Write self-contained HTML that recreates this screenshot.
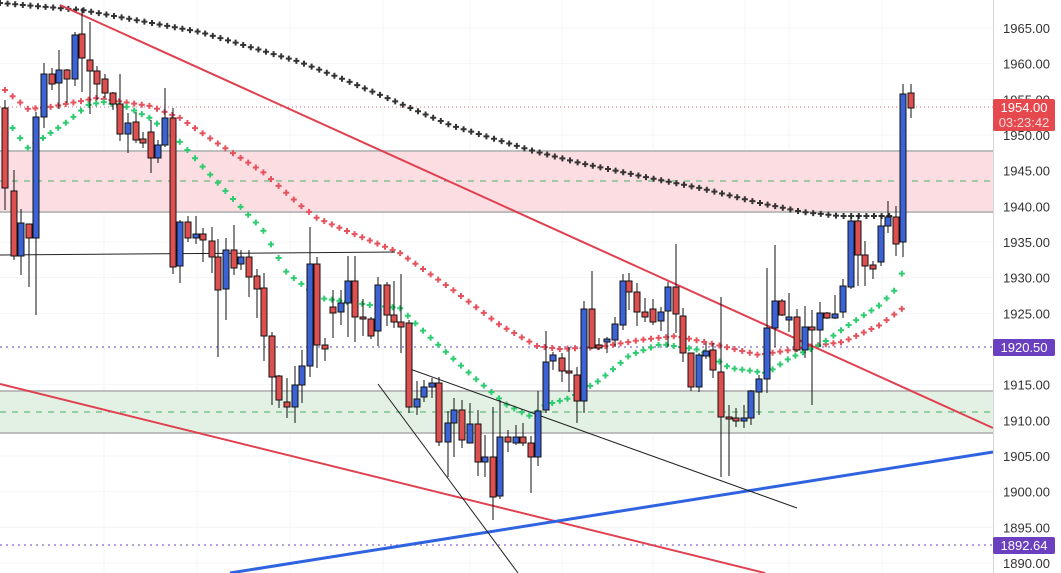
<!DOCTYPE html>
<html><head><meta charset="utf-8"><style>
html,body{margin:0;padding:0;background:#fff;}
svg{display:block;font-family:"Liberation Sans",sans-serif;}
</style></head><body>
<svg id="s" width="1061" height="573" viewBox="0 0 1061 573" xmlns="http://www.w3.org/2000/svg">
<rect width="1061" height="573" fill="#fff"/>
<g id="grid" stroke="#f3f4f6" stroke-width="1"></g>
<rect x="0" y="151" width="993" height="61" fill="#fcdde2"/>
<line x1="0" y1="151" x2="993" y2="151" stroke="#bdbdbd" stroke-width="2"/>
<line x1="0" y1="212" x2="993" y2="212" stroke="#bdbdbd" stroke-width="2"/>
<line x1="0" y1="181" x2="993" y2="181" stroke="#4caf6a" stroke-width="1" stroke-dasharray="6,6"/>
<rect x="0" y="391" width="993" height="42" fill="#e2f1e3"/>
<line x1="0" y1="391" x2="993" y2="391" stroke="#bdbdbd" stroke-width="2"/>
<line x1="0" y1="433" x2="993" y2="433" stroke="#bdbdbd" stroke-width="2"/>
<line x1="0" y1="412" x2="993" y2="412" stroke="#4caf6a" stroke-width="1" stroke-dasharray="6,6"/>
<line x1="0" y1="107" x2="993" y2="107" stroke="#e06070" stroke-width="1" stroke-dasharray="1,3"/>
<line x1="0" y1="347" x2="993" y2="347" stroke="#9a80d0" stroke-width="1.5" stroke-dasharray="2,4"/>
<line x1="0" y1="545" x2="993" y2="545" stroke="#9a80d0" stroke-width="1.5" stroke-dasharray="2,4"/>
<g id="dots"></g>
<line x1="60" y1="5" x2="993" y2="428" stroke="#e0404f" stroke-width="2"/>
<line x1="0" y1="384" x2="765" y2="573" stroke="#e0404f" stroke-width="2"/>
<line x1="230" y1="573" x2="993" y2="452" stroke="#2f63e0" stroke-width="3"/>
<line x1="0" y1="255" x2="395" y2="252" stroke="#222" stroke-width="1"/>
<line x1="378" y1="384" x2="518" y2="573" stroke="#222" stroke-width="1"/>
<line x1="410" y1="369" x2="797" y2="508" stroke="#222" stroke-width="1"/>
<g id="candles"></g>
<rect x="993" y="0" width="68" height="573" fill="#fff"/>
<line x1="993.5" y1="0" x2="993.5" y2="573" stroke="#d6d6d6"/>
<g id="ax" font-size="13" fill="#333"></g>
<rect x="993" y="99" width="62" height="32" rx="2" fill="#e5484d"/>
<text x="1024" y="112" font-size="13" fill="#fff" text-anchor="middle">1954.00</text>
<text x="1024" y="127" font-size="13" fill="#ffd9d9" text-anchor="middle">03:23:42</text>
<rect x="993" y="339" width="62" height="17" rx="2" fill="#6a3fc0"/>
<text x="1024" y="352" font-size="13" fill="#fff" text-anchor="middle">1920.50</text>
<rect x="993" y="537" width="62" height="17" rx="2" fill="#6a3fc0"/>
<text x="1024" y="550" font-size="13" fill="#fff" text-anchor="middle">1892.64</text>
</svg>
<script>
var NS="http://www.w3.org/2000/svg";
function el(t,a,p){var e=document.createElementNS(NS,t);for(var k in a)e.setAttribute(k,a[k]);p.appendChild(e);return e;}
var ax=document.getElementById('ax'),grid=document.getElementById('grid');
for(var p=1965;p>=1890;p-=5){var y=28+(1965-p)*7.133;
 el('line',{x1:0,y1:y,x2:993,y2:y},grid);
 var t=el('text',{x:1003,y:y+5},ax);t.textContent=p.toFixed(2);}
[104,197,290,383,470,562,653,745,789,882].forEach(function(x){el('line',{x1:x,y1:0,x2:x,y2:573},grid);});
function interp(pts,step,color,g){
 for(var x=pts[0][0];x<=pts[pts.length-1][0];x+=step){
  var j=1;while(j<pts.length-1&&pts[j][0]<x)j++;
  var a=pts[j-1],b=pts[j],f=(x-a[0])/(b[0]-a[0]||1);var y=a[1]+(b[1]-a[1])*f;
  el('path',{d:'M'+(x-3)+' '+y+'h6M'+x+' '+(y-3)+'v6',stroke:color,'stroke-width':2},g);}
}
var dots=document.getElementById('dots');
interp([[0,3],[82,10],[200,32],[300,62],[350,82],[450,125],[530,150],[580,163],[650,178],[700,188],[760,203],[803,212],[840,216],[895,216]],7.6,'#333',dots);
interp([[5,90],[28,109],[50,107],[97,98],[150,106],[180,118],[217,143],[263,172],[300,205],[317,218],[347,231],[400,253],[453,290],[500,325],[537,346],[560,349],[600,347],[640,340],[676,336],[700,341],[730,348],[759,355],[790,350],[820,345],[843,342],[880,325],[903,308]],7.6,'#e5545e',dots);
interp([[5,110],[13,129],[28,148],[43,138],[67,122],[88,105],[103,102],[127,107],[150,118],[180,142],[203,167],[233,199],[263,230],[287,273],[320,298],[370,305],[400,308],[417,325],[447,353],[477,380],[507,405],[532,417],[545,405],[570,398],[600,380],[630,355],[661,344],[700,350],[730,368],[767,373],[790,358],[820,345],[850,324],[880,305],[897,288],[903,270]],7.6,'#2ecc71',dots);
var C=[[5,108,188,100,210],[14,191,256,170,260],[21,256,223,209,275],[29,224,238,224,287],[36,238,117,112,315],[44,117,74,63,128],[52,74,84,68,90],[59,83,70,50,109],[67,70,79,69,103],[75,79,35,32,86],[82,34,58,8,92],[90,60,71,22,114],[97,71,84,66,100],[105,79,93,74,98],[113,93,104,92,110],[120,104,134,74,141],[128,134,123,113,153],[136,122,140,112,143],[143,139,143,132,148],[151,132,158,120,173],[158,158,145,140,163],[165,145,118,88,147],[173,118,267,108,274],
[180,266,222,220,283],[188,222,238,216,242],[196,238,234,216,244],[203,234,240,228,262],[212,241,257,227,273],[218,257,290,239,357],[226,289,250,238,320],[234,250,268,225,275],[241,264,257,250,270],[249,257,277,250,297],[257,276,289,269,318],[264,288,336,273,361],[272,336,377,332,405],[279,376,400,375,408],[287,402,407,378,418],[295,407,385,366,423],[302,385,366,350,403],[310,366,264,227,377],[317,264,345,257,368],[325,345,349,338,361],[333,307,313,290,338],[341,312,303,290,325],[348,303,281,256,337],[355,281,317,256,342],[363,317,319,299,336],[371,319,336,317,339],[378,331,285,277,346],[387,285,315,282,326],[394,315,322,281,328],[401,322,327,274,353],[409,323,407,320,413],[417,407,399,381,415],[424,397,387,380,402],[432,387,383,378,398],[439,383,442,377,446],[448,442,423,411,477],[454,423,410,398,457],[462,410,440,400,448],[470,443,424,403,443],[478,424,462,410,476],[485,462,457,435,477],[493,457,497,407,520],[500,496,437,400,499],[508,437,442,430,452],[516,443,437,425,445],[523,437,443,423,446],[531,443,457,436,493],[538,457,411,391,466],[546,410,362,331,413],
[553,361,355,352,370],[562,358,371,353,382],[569,371,373,347,392],[577,375,401,367,423],[584,401,309,301,413],[592,309,348,271,349],[599,345,348,338,350],[607,342,339,337,353],[615,340,324,317,347],[623,325,281,274,330],[629,281,292,273,310],[637,292,312,283,326],[645,312,317,298,322],[653,309,322,299,325],[661,321,312,307,331],[668,311,287,282,347],[676,287,314,244,333],[683,316,353,308,362],[691,353,387,353,391],[699,387,355,353,392],[706,356,351,343,359],[713,350,370,343,378],[721,372,417,297,477],[729,417,418,405,476],[736,418,421,408,427],[744,421,418,405,428],[751,418,391,390,425],[759,392,379,375,415],[767,379,328,268,393],[775,328,301,245,347],[782,301,315,299,316],[789,320,317,293,332],[797,317,350,309,352],[805,350,327,306,358],[812,327,330,310,405],[820,330,313,302,347],[827,313,318,312,319],[835,318,314,295,319],[843,312,286,279,318],[851,287,221,218,289],[858,221,255,215,286],[865,255,266,241,286],[873,265,269,261,279],[881,262,226,215,266],[888,226,217,201,233],[896,217,244,206,256],[903,242,94,84,257],[911,93,108,84,118]];
var cg=document.getElementById('candles');
C.forEach(function(c){var x=c[0],o=c[1],cl=c[2],h=c[3],l=c[4];
 var up=cl<o;var top=Math.min(o,cl),bot=Math.max(o,cl);if(bot-top<2)bot=top+2;
 el('line',{x1:x,y1:h,x2:x,y2:l,stroke:'#111','stroke-width':1},cg);
 el('rect',{x:x-3,y:top,width:6,height:bot-top,fill:up?'#3b63d6':'#de5050',stroke:'#111','stroke-width':1},cg);});
</script>
</body></html>
